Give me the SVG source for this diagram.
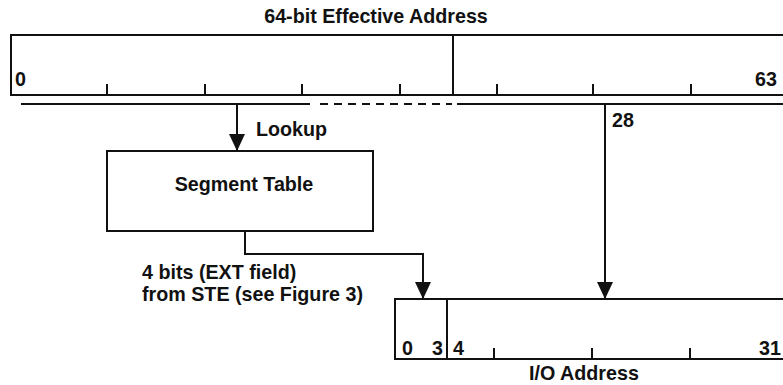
<svg xmlns="http://www.w3.org/2000/svg" width="783" height="385" viewBox="0 0 783 385">
<defs>
<style>
.t{font-family:"Liberation Sans",Arial,sans-serif;font-weight:bold;font-size:19.7px;fill:#111}
.s{stroke:#111;stroke-width:2;fill:none}
.f{fill:#fff;stroke:#111;stroke-width:2}
</style>
<marker id="ah" markerWidth="17" markerHeight="16" refX="17" refY="8" orient="auto" markerUnits="userSpaceOnUse" viewBox="0 0 17 16">
<path d="M0,0 L17,8 L0,16 Z" fill="#111"/>
</marker>
</defs>
<rect width="783" height="385" fill="#fff"/>
<text class="t" x="376" y="23" text-anchor="middle">64-bit Effective Address</text>
<g id="effective-address">
<rect class="f" x="11" y="35" width="785" height="60"/>
<line class="s" x1="453" y1="35" x2="453" y2="95"/>
<path class="s" d="M107,84V95M205,84V95M302,84V95M400,84V95M497,84V95M593,84V95M691,84V95"/>
<text class="t" x="15" y="86">0</text>
<text class="t" x="755" y="86">63</text>
</g>
<g id="segment-table">
<rect class="f" x="107" y="151" width="266" height="80"/>
<text class="t" x="244" y="191" text-anchor="middle">Segment Table</text>
</g>
<g id="io-address">
<rect class="f" x="395" y="299" width="400" height="60"/>
<line class="s" x1="447" y1="299" x2="447" y2="359"/>
<path class="s" d="M494,348V359M592,348V359M690,348V359"/>
<text class="t" x="402" y="355">0</text>
<text class="t" x="432" y="355">3</text>
<text class="t" x="453" y="355">4</text>
<text class="t" x="759" y="355">31</text>
<text class="t" x="584" y="380" text-anchor="middle">I/O Address</text>
</g>
<g id="connectors">
<path class="s" d="M21,104H310"/>
<path class="s" d="M320,104H452" stroke-dasharray="8,6"/>
<path class="s" d="M457,104H783"/>
<path class="s" d="M237,104V151" marker-end="url(#ah)"/>
<path class="s" d="M605,104V299" marker-end="url(#ah)"/>
<path class="s" d="M245,231V254H423V299" marker-end="url(#ah)"/>
<text class="t" x="256" y="136">Lookup</text>
<text class="t" x="612" y="127">28</text>
<text class="t" x="142" y="279">4 bits (EXT field)</text>
<text class="t" x="142" y="301">from STE (see Figure 3)</text>
</g>
</svg>
